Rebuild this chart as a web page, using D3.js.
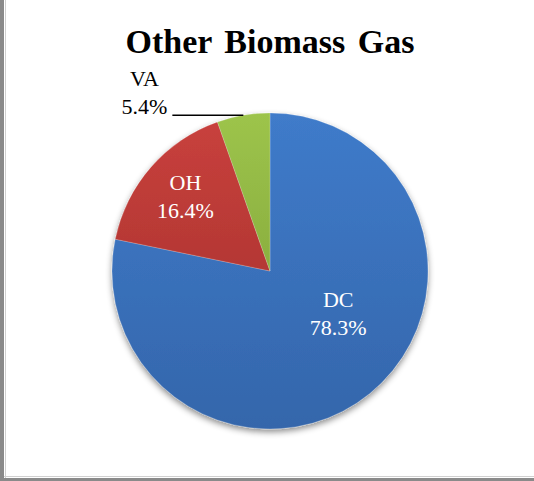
<!DOCTYPE html>
<html>
<head>
<meta charset="utf-8">
<script src="https://cdn.jsdelivr.net/npm/d3@7"></script>
<style>
  body { margin: 0; background: #fff; }
  svg { display: block; }
</style>
</head>
<body>
<div id="chart"></div>
<script>
var categories = ["DC", "OH", "VA"];
var shares = [78.3, 16.4, 5.4];
var shareLabels = ["78.3%", "16.4%", "5.4%"];
var title = "Other Biomass Gas";

var width = 534, height = 481;
var cx = 270, cy = 271, radius = 158;

// colours: top / bottom of each slice gradient
var sliceColors = {
    DC: ["#3f7bca", "#3466ab"],
    OH: ["#c9413d", "#9f2d2a"],
    VA: ["#9dc44b", "#789a34"]
};

var fontFamily = "'Liberation Serif', 'Times New Roman', serif";

var svg = d3.select("#chart").append("svg")
    .attr("width", width)
    .attr("height", height);

var defs = svg.append("defs");

categories.forEach(function(c){
    var g = defs.append("linearGradient")
        .attr("id", "grad-" + c)
        .attr("gradientUnits", "userSpaceOnUse")
        .attr("x1", 0).attr("y1", -radius)
        .attr("x2", 0).attr("y2", radius);
    g.append("stop").attr("offset", "0%").attr("stop-color", sliceColors[c][0]);
    g.append("stop").attr("offset", "100%").attr("stop-color", sliceColors[c][1]);
});

var shadow = defs.append("filter")
    .attr("id", "shadow")
    .attr("x", "-20%").attr("y", "-20%")
    .attr("width", "140%").attr("height", "140%");
shadow.append("feDropShadow")
    .attr("dx", 0).attr("dy", 3)
    .attr("stdDeviation", 3)
    .attr("flood-color", "#000")
    .attr("flood-opacity", 0.45);

// frame
svg.append("rect")
    .attr("x", 0).attr("y", 0)
    .attr("width", width).attr("height", height)
    .attr("fill", "#fff");
svg.append("rect")
    .attr("x", 0).attr("y", 0)
    .attr("width", 4).attr("height", height)
    .attr("fill", "#8a8a8a");
svg.append("rect")
    .attr("x", 0).attr("y", height - 3)
    .attr("width", width).attr("height", 3)
    .attr("fill", "#8a8a8a");
svg.append("line")
    .attr("x1", 5.5).attr("y1", 0)
    .attr("x2", 5.5).attr("y2", height - 3)
    .style("stroke", "#d0d0d0");
svg.append("line")
    .attr("x1", 4).attr("y1", height - 4.5)
    .attr("x2", width).attr("y2", height - 4.5)
    .style("stroke", "#d0d0d0");

svg.append("text")
    .attr("x", cx)
    .attr("y", 53)
    .attr("text-anchor", "middle")
    .style("font-family", fontFamily)
    .style("font-weight", "bold")
    .style("font-size", "34px")
    .style("word-spacing", "4px")
    .style("fill", "#000")
    .text(title);

var data = categories.map(function(c, i){
    return {name: c, value: shares[i], label: shareLabels[i]};
});

var pie = d3.pie()
    .sort(null)
    .value(function(d){ return d.value; });

var arc = d3.arc()
    .innerRadius(0)
    .outerRadius(radius);

var arcs = pie(data);

var pieG = svg.append("g")
    .attr("transform", "translate(" + cx + "," + cy + ")");

pieG.append("g")
    .attr("filter", "url(#shadow)")
    .selectAll("path")
    .data(arcs)
    .enter()
    .append("path")
    .attr("d", arc)
    .attr("fill", function(d){ return "url(#grad-" + d.data.name + ")"; })
    .style("stroke", "rgba(255,255,255,0.4)")
    .style("stroke-width", 0.5);

// label positions: angle offset (rad) and radius as fraction of the pie
var labelPlace = {
    DC: {da: -0.325, r: 0.51, inside: true},
    OH: {da: 0, r: 0.71, inside: true},
    VA: {da: 0, r: 1, inside: false}
};

arcs.forEach(function(d){
    var p = labelPlace[d.data.name];
    var mid = (d.startAngle + d.endAngle) / 2 + p.da;
    var rr = radius * p.r;
    var x = rr * Math.sin(mid);
    var y = -rr * Math.cos(mid);

    if(p.inside){
        var t = pieG.append("text")
            .attr("text-anchor", "middle")
            .style("font-family", fontFamily)
            .style("font-size", "22px")
            .style("fill", "#fff");
        t.append("tspan").attr("x", x).attr("y", y - 7).text(d.data.name);
        t.append("tspan").attr("x", x).attr("y", y + 21).text(d.data.label);
    } else {
        // leader line from arc edge out to the label on the left
        var lx = x - 71, ly = y;
        pieG.append("line")
            .attr("x1", x).attr("y1", y)
            .attr("x2", lx).attr("y2", ly)
            .style("stroke", "#000")
            .style("stroke-width", 1.5);
        var t2 = pieG.append("text")
            .attr("text-anchor", "middle")
            .style("font-family", fontFamily)
            .style("font-size", "22px")
            .style("fill", "#000");
        t2.append("tspan").attr("x", lx - 28).attr("y", ly - 29).text(d.data.name);
        t2.append("tspan").attr("x", lx - 28).attr("y", ly - 1).text(d.data.label);
    }
});
</script>
</body>
</html>
